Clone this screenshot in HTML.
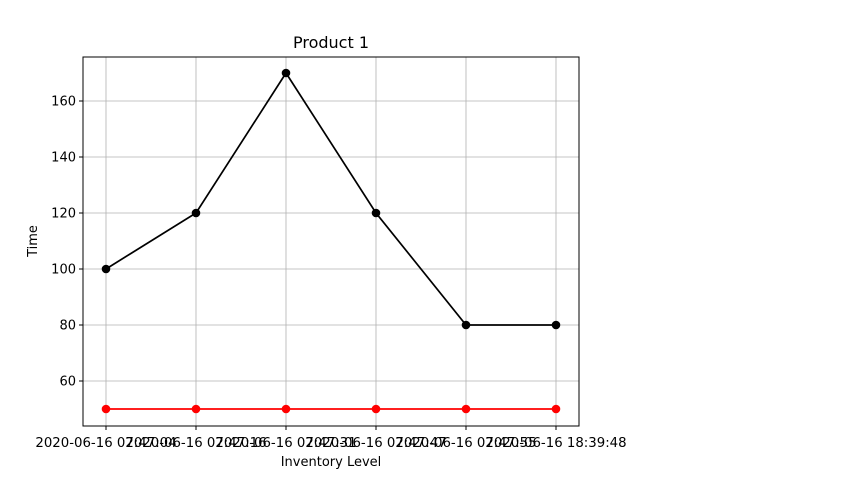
<!DOCTYPE html>
<html><head><meta charset="utf-8"><style>
body{margin:0;background:#fff;}
svg{display:block;font-family:"DejaVu Sans","Liberation Sans",sans-serif;}
</style></head><body>
<svg id="chart" width="847" height="477">
<rect x="0" y="0" width="847" height="477" fill="#fff"/>
<text x="331" y="48" font-size="16" text-anchor="middle">Product 1</text>
<g id="grid"></g>
<g id="ticks"></g>
<g id="series"></g>
<rect x="83" y="57" width="496" height="369" fill="none" stroke="#000" stroke-width="1"/>
<text x="331" y="466" font-size="13" text-anchor="middle">Inventory Level</text>
<text x="37" y="241" font-size="13" text-anchor="middle" transform="rotate(-90 37 241)">Time</text>
</svg>
<script>
const categories=["2020-06-16 07:47:04","2020-06-16 07:47:16","2020-06-16 07:47:31","2020-06-16 07:47:47","2020-06-16 07:47:55","2020-06-16 18:39:48"];
const blackSeries=[100,120,170,120,80,80];
const redSeries=[50,50,50,50,50,50];
const yTicks=[60,80,100,120,140,160];
const NS="http://www.w3.org/2000/svg";
const x=i=>106+90*i;
const y=v=>381-(v-60)*2.8;
function mk(t,a,p){const e=document.createElementNS(NS,t);for(const k in a)e.setAttribute(k,a[k]);p.appendChild(e);return e;}
const grid=document.getElementById('grid'),ticks=document.getElementById('ticks'),series=document.getElementById('series');
categories.forEach((c,i)=>{
 const g=mk('line',{x1:x(i),x2:x(i),y1:57,y2:426,stroke:'#b0b0b0','stroke-width':0.8},grid);
 
 
 const t=mk('line',{x1:x(i),x2:x(i),y1:426,y2:430,stroke:'#000'},ticks);
 
 
 const l=mk('text',{x:x(i),y:447,'font-size':13.3,'text-anchor':'middle'},ticks);
 l.textContent=c;
 
 
});
yTicks.forEach(v=>{
 const g=mk('line',{x1:83,x2:579,y1:y(v),y2:y(v),stroke:'#b0b0b0','stroke-width':0.8},grid);
 
 
 const t=mk('line',{x1:79,x2:83,y1:y(v),y2:y(v),stroke:'#000'},ticks);
 
 
 const l=mk('text',{x:76,y:y(v)+4.5,'font-size':13,'text-anchor':'end'},ticks);
 l.textContent=v;
 
 
});
function draw(data,color,name){
 const p=mk('polyline',{points:data.map((v,i)=>x(i)+','+y(v)).join(' '),fill:'none',stroke:color,'stroke-width':1.7},series);
 
 
 data.forEach((v,i)=>{
  const c=mk('circle',{cx:x(i),cy:y(v),r:4.3,fill:color},series);
  
  
 });
}
draw(blackSeries,'#000','black-series');
draw(redSeries,'#ff0000','red-series');
</script>
</body></html>
